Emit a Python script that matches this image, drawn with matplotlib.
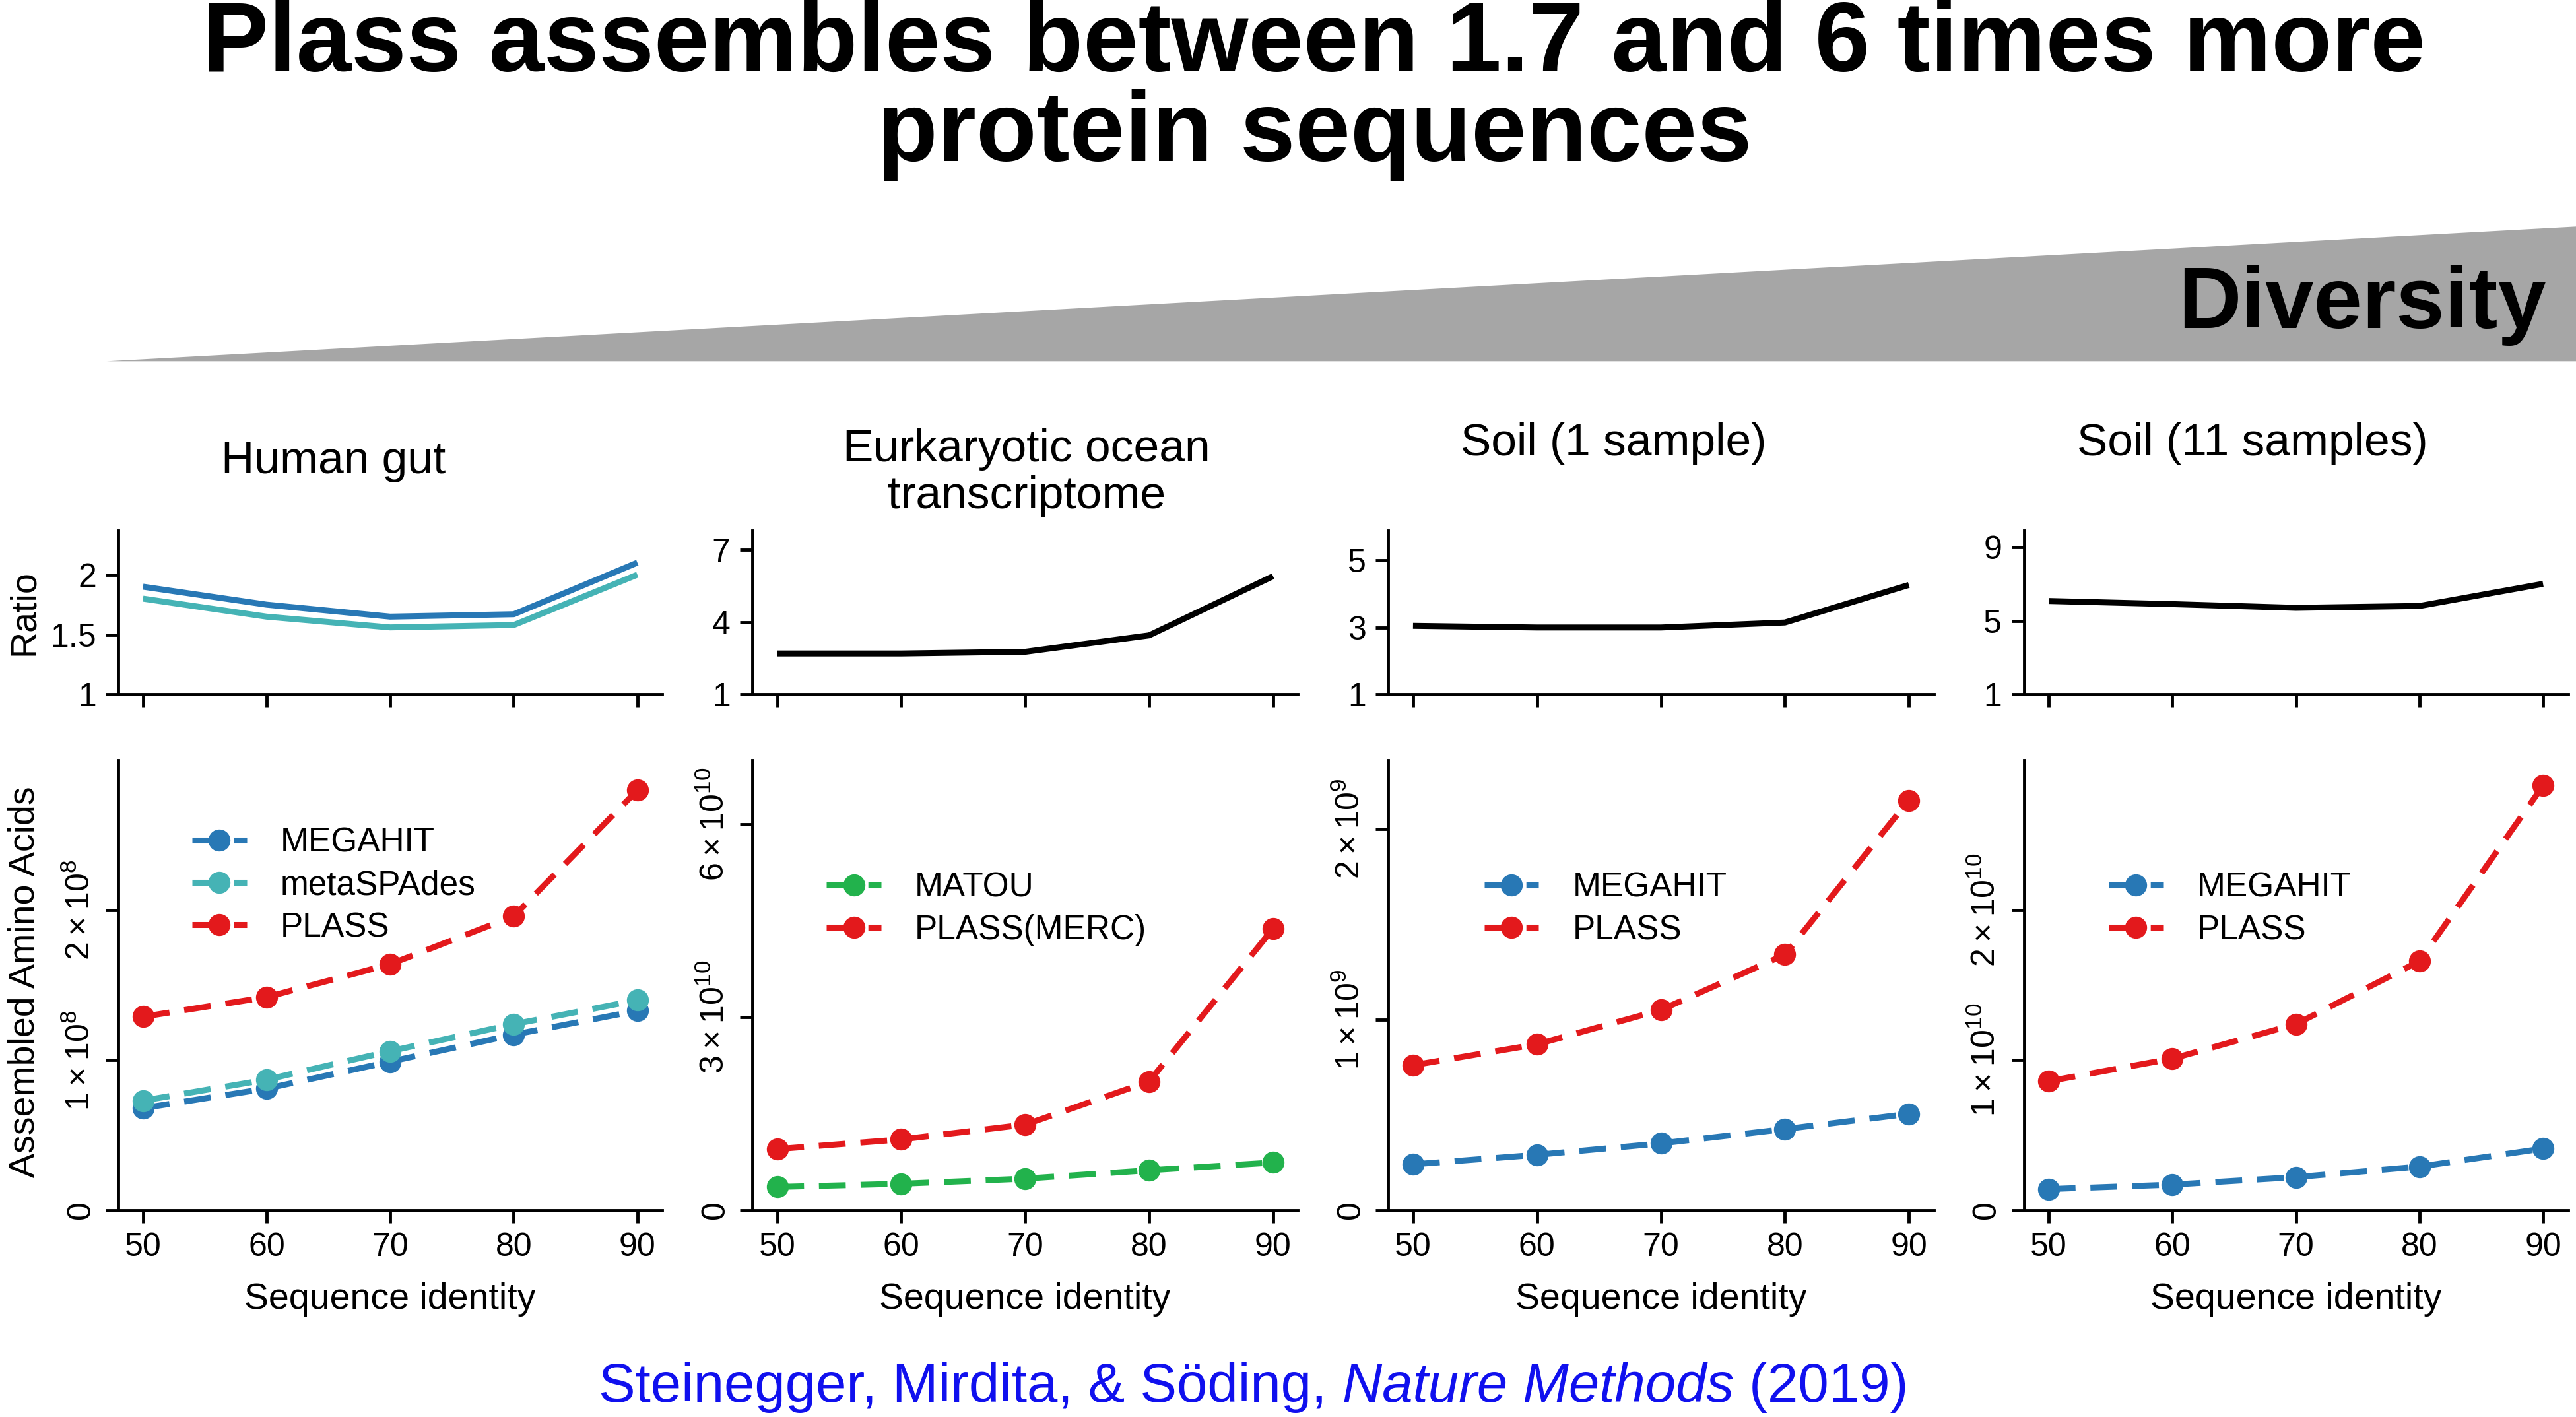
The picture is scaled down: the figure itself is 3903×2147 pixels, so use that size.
import numpy as np
import matplotlib.pyplot as plt
from matplotlib.lines import Line2D
from matplotlib.patches import Polygon

plt.rcParams['font.family'] = ['Liberation Sans', 'DejaVu Sans']
plt.rcParams['mathtext.fontset'] = 'custom'
plt.rcParams['mathtext.rm'] = 'Liberation Sans'

identity = [50, 60, 70, 80, 90]

# human gut
gut_ratio_megahit = [1.9, 1.75, 1.65, 1.67, 2.1]
gut_ratio_spades = [1.8, 1.65, 1.56, 1.58, 2.0]
gut_megahit = [0.68e8, 0.81e8, 0.99e8, 1.17e8, 1.33e8]
gut_spades = [0.73e8, 0.87e8, 1.06e8, 1.24e8, 1.40e8]
gut_plass = [1.29e8, 1.42e8, 1.64e8, 1.96e8, 2.80e8]
# eukaryotic ocean
ocean_ratio = [2.7, 2.7, 2.77, 3.45, 5.9]
ocean_matou = [0.36e10, 0.41e10, 0.49e10, 0.62e10, 0.74e10]
ocean_plass = [0.95e10, 1.1e10, 1.33e10, 2.0e10, 4.38e10]
# soil 1 sample
soil1_ratio = [3.05, 3.0, 3.0, 3.15, 4.27]
soil1_megahit = [0.24e9, 0.29e9, 0.35e9, 0.425e9, 0.505e9]
soil1_plass = [0.76e9, 0.87e9, 1.05e9, 1.34e9, 2.15e9]
# soil 11 samples
soil11_ratio = [6.07, 5.9, 5.7, 5.8, 7.0]
soil11_megahit = [0.14e10, 0.17e10, 0.22e10, 0.29e10, 0.41e10]
soil11_plass = [0.86e10, 1.01e10, 1.24e10, 1.66e10, 2.83e10]

BLUE = '#2878b5'
TEAL = '#45b3b5'
RED = '#e3191c'
GREEN = '#22b24c'

W, H = 1568, 863
fig = plt.figure(figsize=(39.03, 21.47), dpi=100)

def box(x0, y0, x1, y1):
    return [x0 / W, 1 - y1 / H, (x1 - x0) / W, (y1 - y0) / H]

def style(ax):
    for s in ['top', 'right']:
        ax.spines[s].set_visible(False)
    for s in ['left', 'bottom']:
        ax.spines[s].set_linewidth(3.5)
    ax.tick_params(width=3.5, length=14, labelsize=36, pad=10)
    ax.set_xlim(48, 92)
    ax.set_xticks(identity)

DASH = (0, (4.5, 2.5))

panels = [
    dict(x=(72, 403), title='Human gut', tx=203, ty=281,
         ratio=[(gut_ratio_megahit, BLUE), (gut_ratio_spades, TEAL)],
         rlim=(1, 2.37), rticks=[1, 1.5, 2], rlabels=['1', '1.5', '2'],
         series=[('MEGAHIT', gut_megahit, BLUE), ('metaSPAdes', gut_spades, TEAL), ('PLASS', gut_plass, RED)],
         ylim=3.0e8, exp=8, yticks=[0, 1, 2], leg=(0.08, 0.92)),
    dict(x=(458, 790), title='Eurkaryotic ocean\ntranscriptome', tx=625, ty=288,
         ratio=[(ocean_ratio, 'black')],
         rlim=(1, 7.8), rticks=[1, 4, 7], rlabels=['1', '4', '7'],
         series=[('MATOU', ocean_matou, GREEN), ('PLASS(MERC)', ocean_plass, RED)],
         ylim=7.0e10, exp=10, yticks=[0, 3, 6], leg=(0.08, 0.82)),
    dict(x=(845, 1177), title='Soil (1 sample)', tx=982, ty=270,
         ratio=[(soil1_ratio, 'black')],
         rlim=(1, 5.9), rticks=[1, 3, 5], rlabels=['1', '3', '5'],
         series=[('MEGAHIT', soil1_megahit, BLUE), ('PLASS', soil1_plass, RED)],
         ylim=2.36e9, exp=9, yticks=[0, 1, 2], leg=(0.12, 0.82)),
    dict(x=(1232, 1563), title='Soil (11 samples)', tx=1371, ty=270,
         ratio=[(soil11_ratio, 'black')],
         rlim=(1, 9.9), rticks=[1, 5, 9], rlabels=['1', '5', '9'],
         series=[('MEGAHIT', soil11_megahit, BLUE), ('PLASS', soil11_plass, RED)],
         ylim=3.0e10, exp=10, yticks=[0, 1, 2], leg=(0.1, 0.82)),
]

for p in panels:
    x0, x1 = p['x']
    ar = fig.add_axes(box(x0, 323, x1, 423))
    for vals, c in p['ratio']:
        ar.plot(identity, vals, color=c, lw=6.5, solid_capstyle='butt')
    style(ar)
    ar.set_ylim(*p['rlim'])
    ar.set_yticks(p['rticks'])
    ar.set_yticklabels(p['rlabels'])
    ar.set_xticklabels([])

    ab = fig.add_axes(box(x0, 463, x1, 737))
    handles = []
    for name, vals, c in p['series']:
        ab.plot(identity, vals, color=c, lw=6.5, ls=DASH, marker='o', ms=23)
        handles.append(Line2D([], [], color=c, lw=6.5, ls=DASH, marker='o', ms=23, label=name))
    style(ab)
    ab.set_ylim(0, p['ylim'])
    e = p['exp']
    ab.set_yticks([t * 10 ** e for t in p['yticks']])
    ab.set_yticklabels(['0' if t == 0 else r'$%d\times10^{%d}$' % (t, e) for t in p['yticks']],
                       rotation=90, va='center')
    ab.set_xlabel('Sequence identity', fontsize=40, labelpad=22)
    ab.legend(handles=handles, loc='upper left', bbox_to_anchor=p['leg'], frameon=False,
              fontsize=37, handlelength=1.6, handletextpad=1.0, labelspacing=0.3)
    fig.text(p['tx'] / W, 1 - p['ty'] / H, p['title'], fontsize=50,
             ha='center', va='center', linespacing=1.15)

fig.text(15 / W, 1 - 373 / H, 'Ratio', rotation=90, fontsize=40, ha='center', va='center')
fig.text(15 / W, 1 - 598 / H, 'Assembled Amino Acids', rotation=90, fontsize=40, ha='center', va='center')

# diversity wedge
fig.patches.append(Polygon([(65 / W, 1 - 220 / H), (1.0, 1 - 138 / H), (1.0, 1 - 220 / H)],
                           closed=True, transform=fig.transFigure, color='#a6a6a6', lw=0))
fig.text(1550 / W, 1 - 186 / H, 'Diversity', fontsize=95, fontweight='bold', ha='right', va='center')

fig.text(800 / W, 1 - 55 / H, 'Plass assembles between 1.7 and 6 times more\nprotein sequences',
         fontsize=108, fontweight='bold', ha='center', va='center', linespacing=0.97)

# citation with italic part
parts = [('Steinegger, Mirdita, & Söding, ', 'normal'), ('Nature Methods', 'italic'), (' (2019)', 'normal')]
fig.canvas.draw()
r = fig.canvas.get_renderer()
texts = [fig.text(0, 1 - 845 / H, s, fontsize=60, style=st, color='#1010ee', va='center') for s, st in parts]
widths = [t.get_window_extent(r).width for t in texts]
x = 763 / W * fig.bbox.width - sum(widths) / 2
for t, w in zip(texts, widths):
    t.set_x(x / fig.bbox.width)
    x += w

fig.savefig('out.png', dpi=100)
